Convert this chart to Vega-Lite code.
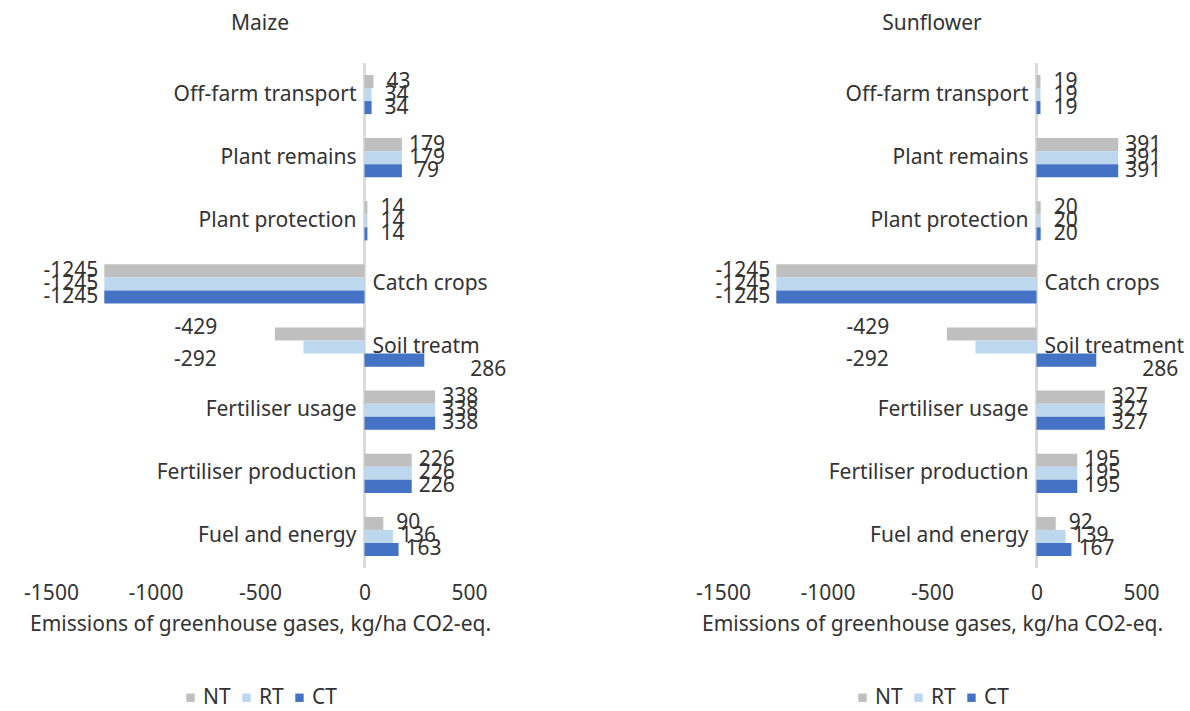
{
  "$schema": "https://vega.github.io/schema/vega-lite/v6.json",
  "background": "white",
  "padding": {"left": 23, "top": 13, "right": 5, "bottom": 2},
  "spacing": 188,
  "config": {
    "view": {"stroke": null},
    "font": "Noto Sans",
    "text": {"font": "Noto Sans", "fontSize": 21, "color": "#333333"},
    "title": {"font": "Noto Sans", "fontSize": 21, "fontWeight": "normal", "color": "#333333"},
    "axis": {"labelFont": "Noto Sans", "titleFont": "Noto Sans"},
    "legend": {"labelFont": "Noto Sans"}
  },
  "datasets": {
    "maize": [
      {"cat": "Off-farm transport", "name": "Off-farm transport", "series": "NT", "value": 43, "label": "43"},
      {"cat": "Off-farm transport", "name": "Off-farm transport", "series": "RT", "value": 34, "label": "34"},
      {"cat": "Off-farm transport", "name": "Off-farm transport", "series": "CT", "value": 34, "label": "34"},
      {"cat": "Plant remains", "name": "Plant remains", "series": "NT", "value": 179, "label": "179"},
      {"cat": "Plant remains", "name": "Plant remains", "series": "RT", "value": 179, "label": "179"},
      {"cat": "Plant remains", "name": "Plant remains", "series": "CT", "value": 179, "label": "79"},
      {"cat": "Plant protection", "name": "Plant protection", "series": "NT", "value": 14, "label": "14"},
      {"cat": "Plant protection", "name": "Plant protection", "series": "RT", "value": 14, "label": "14"},
      {"cat": "Plant protection", "name": "Plant protection", "series": "CT", "value": 14, "label": "14"},
      {"cat": "Catch crops", "name": "Catch crops", "series": "NT", "value": -1245, "label": "-1245"},
      {"cat": "Catch crops", "name": "Catch crops", "series": "RT", "value": -1245, "label": "-1245"},
      {"cat": "Catch crops", "name": "Catch crops", "series": "CT", "value": -1245, "label": "-1245"},
      {"cat": "Soil treatment", "name": "Soil treatm", "series": "NT", "value": -429, "label": "-429"},
      {"cat": "Soil treatment", "name": "Soil treatm", "series": "RT", "value": -292, "label": "-292"},
      {"cat": "Soil treatment", "name": "Soil treatm", "series": "CT", "value": 286, "label": "286"},
      {"cat": "Fertiliser usage", "name": "Fertiliser usage", "series": "NT", "value": 338, "label": "338"},
      {"cat": "Fertiliser usage", "name": "Fertiliser usage", "series": "RT", "value": 338, "label": "338"},
      {"cat": "Fertiliser usage", "name": "Fertiliser usage", "series": "CT", "value": 338, "label": "338"},
      {"cat": "Fertiliser production", "name": "Fertiliser production", "series": "NT", "value": 226, "label": "226"},
      {"cat": "Fertiliser production", "name": "Fertiliser production", "series": "RT", "value": 226, "label": "226"},
      {"cat": "Fertiliser production", "name": "Fertiliser production", "series": "CT", "value": 226, "label": "226"},
      {"cat": "Fuel and energy", "name": "Fuel and energy", "series": "NT", "value": 90, "label": "90"},
      {"cat": "Fuel and energy", "name": "Fuel and energy", "series": "RT", "value": 136, "label": "136"},
      {"cat": "Fuel and energy", "name": "Fuel and energy", "series": "CT", "value": 163, "label": "163"}
    ],
    "sunflower": [
      {"cat": "Off-farm transport", "name": "Off-farm transport", "series": "NT", "value": 19, "label": "19"},
      {"cat": "Off-farm transport", "name": "Off-farm transport", "series": "RT", "value": 19, "label": "19"},
      {"cat": "Off-farm transport", "name": "Off-farm transport", "series": "CT", "value": 19, "label": "19"},
      {"cat": "Plant remains", "name": "Plant remains", "series": "NT", "value": 391, "label": "391"},
      {"cat": "Plant remains", "name": "Plant remains", "series": "RT", "value": 391, "label": "391"},
      {"cat": "Plant remains", "name": "Plant remains", "series": "CT", "value": 391, "label": "391"},
      {"cat": "Plant protection", "name": "Plant protection", "series": "NT", "value": 20, "label": "20"},
      {"cat": "Plant protection", "name": "Plant protection", "series": "RT", "value": 20, "label": "20"},
      {"cat": "Plant protection", "name": "Plant protection", "series": "CT", "value": 20, "label": "20"},
      {"cat": "Catch crops", "name": "Catch crops", "series": "NT", "value": -1245, "label": "-1245"},
      {"cat": "Catch crops", "name": "Catch crops", "series": "RT", "value": -1245, "label": "-1245"},
      {"cat": "Catch crops", "name": "Catch crops", "series": "CT", "value": -1245, "label": "-1245"},
      {"cat": "Soil treatment", "name": "Soil treatment", "series": "NT", "value": -429, "label": "-429"},
      {"cat": "Soil treatment", "name": "Soil treatment", "series": "RT", "value": -292, "label": "-292"},
      {"cat": "Soil treatment", "name": "Soil treatment", "series": "CT", "value": 286, "label": "286"},
      {"cat": "Fertiliser usage", "name": "Fertiliser usage", "series": "NT", "value": 327, "label": "327"},
      {"cat": "Fertiliser usage", "name": "Fertiliser usage", "series": "RT", "value": 327, "label": "327"},
      {"cat": "Fertiliser usage", "name": "Fertiliser usage", "series": "CT", "value": 327, "label": "327"},
      {"cat": "Fertiliser production", "name": "Fertiliser production", "series": "NT", "value": 195, "label": "195"},
      {"cat": "Fertiliser production", "name": "Fertiliser production", "series": "RT", "value": 195, "label": "195"},
      {"cat": "Fertiliser production", "name": "Fertiliser production", "series": "CT", "value": 195, "label": "195"},
      {"cat": "Fuel and energy", "name": "Fuel and energy", "series": "NT", "value": 92, "label": "92"},
      {"cat": "Fuel and energy", "name": "Fuel and energy", "series": "RT", "value": 139, "label": "139"},
      {"cat": "Fuel and energy", "name": "Fuel and energy", "series": "CT", "value": 167, "label": "167"}
    ]
  },
  "resolve": {"scale": {"color": "independent"}, "legend": {"color": "independent"}},
  "hconcat": [
    {
      "width": 418, "height": 505,
      "title": {"text": "Maize", "offset": 28},
      "data": {"name": "maize"},
      "layer": [
        {"mark": {"type": "rule", "color": "#d9d9d9", "strokeWidth": 1.5},
         "encoding": {"x": {"datum": 0, "type": "quantitative", "scale": {"domain": [-1500, 500], "nice": false},
           "axis": {"values": [-1500, -1000, -500, 0, 500], "labelExpr": "'' + datum.value", "labelFlush": false, "title": "Emissions of greenhouse gases, kg/ha CO2-eq.", "ticks": false, "domain": false, "grid": false, "labelFontSize": 21, "titleFontSize": 21, "titleFontWeight": "normal", "labelColor": "#333333", "titleColor": "#333333", "labelPadding": 14, "titlePadding": 10}}}},
        {"mark": {"type": "bar"},
         "encoding": {
           "x": {"field": "value", "type": "quantitative"},
           "y": {"field": "cat", "type": "nominal", "sort": null, "scale": {"paddingInner": 0.38, "paddingOuter": 0.19}, "axis": null},
           "yOffset": {"field": "series", "type": "nominal", "sort": ["NT", "RT", "CT"], "scale": {"domain": ["NT", "RT", "CT"], "paddingInner": 0, "paddingOuter": 0}},
           "color": {"field": "series", "type": "nominal", "scale": {"domain": ["NT", "RT", "CT"], "range": ["#bfbfbf", "#bdd7ee", "#4472c4"]},
             "legend": {"orient": "none", "legendX": 129, "legendY": 624, "direction": "horizontal", "title": null, "symbolType": "square", "symbolSize": 70, "labelFontSize": 21, "labelColor": "#333333", "columnPadding": 5, "labelOffset": 2, "symbolStrokeWidth": 0}}
         }},
        {"transform": [{"filter": "datum.series == 'NT' && datum.cat != 'Catch crops' && datum.cat != 'Soil treatment'"}],
         "mark": {"type": "text", "align": "right", "dx": -8},
         "encoding": {"x": {"datum": 0, "type": "quantitative"}, "y": {"field": "cat", "type": "nominal", "sort": null}, "text": {"field": "name"}}},
        {"transform": [{"filter": "datum.series == 'NT' && (datum.cat == 'Catch crops' || datum.cat == 'Soil treatment')"}],
         "mark": {"type": "text", "align": "left", "dx": 8},
         "encoding": {"x": {"datum": 0, "type": "quantitative"}, "y": {"field": "cat", "type": "nominal", "sort": null}, "text": {"field": "name"}}},
        {"transform": [{"filter": "datum.value > 0 && datum.cat != 'Soil treatment'"}],
         "mark": {"type": "text", "align": "center", "dx": 25},
         "encoding": {"x": {"field": "value", "type": "quantitative"}, "y": {"field": "cat", "type": "nominal", "sort": null}, "yOffset": {"field": "series", "type": "nominal", "sort": ["NT", "RT", "CT"]}, "text": {"field": "label"}}},
        {"transform": [{"filter": "datum.cat == 'Catch crops'"}],
         "mark": {"type": "text", "align": "right", "dx": -6},
         "encoding": {"x": {"field": "value", "type": "quantitative"}, "y": {"field": "cat", "type": "nominal", "sort": null}, "yOffset": {"field": "series", "type": "nominal", "sort": ["NT", "RT", "CT"]}, "text": {"field": "label"}}},
        {"transform": [{"filter": "datum.cat == 'Soil treatment'"}],
         "mark": {"type": "text", "align": "center", "dx": {"expr": "datum.series == 'NT' ? -79 : datum.series == 'RT' ? -108 : 64"}, "dy": {"expr": "datum.series == 'NT' ? -6 : datum.series == 'RT' ? 13 : 10"}},
         "encoding": {"x": {"field": "value", "type": "quantitative"}, "y": {"field": "cat", "type": "nominal", "sort": null}, "yOffset": {"field": "series", "type": "nominal", "sort": ["NT", "RT", "CT"]}, "text": {"field": "label"}}}
      ]
    },
    {
      "width": 418, "height": 505,
      "title": {"text": "Sunflower", "offset": 28},
      "data": {"name": "sunflower"},
      "layer": [
        {"mark": {"type": "rule", "color": "#d9d9d9", "strokeWidth": 1.5},
         "encoding": {"x": {"datum": 0, "type": "quantitative", "scale": {"domain": [-1500, 500], "nice": false},
           "axis": {"values": [-1500, -1000, -500, 0, 500], "labelExpr": "'' + datum.value", "labelFlush": false, "title": "Emissions of greenhouse gases, kg/ha CO2-eq.", "ticks": false, "domain": false, "grid": false, "labelFontSize": 21, "titleFontSize": 21, "titleFontWeight": "normal", "labelColor": "#333333", "titleColor": "#333333", "labelPadding": 14, "titlePadding": 10}}}},
        {"mark": {"type": "bar"},
         "encoding": {
           "x": {"field": "value", "type": "quantitative"},
           "y": {"field": "cat", "type": "nominal", "sort": null, "scale": {"paddingInner": 0.38, "paddingOuter": 0.19}, "axis": null},
           "yOffset": {"field": "series", "type": "nominal", "sort": ["NT", "RT", "CT"], "scale": {"domain": ["NT", "RT", "CT"], "paddingInner": 0, "paddingOuter": 0}},
           "color": {"field": "series", "type": "nominal", "scale": {"domain": ["NT", "RT", "CT"], "range": ["#bfbfbf", "#bdd7ee", "#4472c4"]},
             "legend": {"orient": "none", "legendX": 129, "legendY": 624, "direction": "horizontal", "title": null, "symbolType": "square", "symbolSize": 70, "labelFontSize": 21, "labelColor": "#333333", "columnPadding": 5, "labelOffset": 2, "symbolStrokeWidth": 0}}
         }},
        {"transform": [{"filter": "datum.series == 'NT' && datum.cat != 'Catch crops' && datum.cat != 'Soil treatment'"}],
         "mark": {"type": "text", "align": "right", "dx": -8},
         "encoding": {"x": {"datum": 0, "type": "quantitative"}, "y": {"field": "cat", "type": "nominal", "sort": null}, "text": {"field": "name"}}},
        {"transform": [{"filter": "datum.series == 'NT' && (datum.cat == 'Catch crops' || datum.cat == 'Soil treatment')"}],
         "mark": {"type": "text", "align": "left", "dx": 8},
         "encoding": {"x": {"datum": 0, "type": "quantitative"}, "y": {"field": "cat", "type": "nominal", "sort": null}, "text": {"field": "name"}}},
        {"transform": [{"filter": "datum.value > 0 && datum.cat != 'Soil treatment'"}],
         "mark": {"type": "text", "align": "center", "dx": 25},
         "encoding": {"x": {"field": "value", "type": "quantitative"}, "y": {"field": "cat", "type": "nominal", "sort": null}, "yOffset": {"field": "series", "type": "nominal", "sort": ["NT", "RT", "CT"]}, "text": {"field": "label"}}},
        {"transform": [{"filter": "datum.cat == 'Catch crops'"}],
         "mark": {"type": "text", "align": "right", "dx": -6},
         "encoding": {"x": {"field": "value", "type": "quantitative"}, "y": {"field": "cat", "type": "nominal", "sort": null}, "yOffset": {"field": "series", "type": "nominal", "sort": ["NT", "RT", "CT"]}, "text": {"field": "label"}}},
        {"transform": [{"filter": "datum.cat == 'Soil treatment'"}],
         "mark": {"type": "text", "align": "center", "dx": {"expr": "datum.series == 'NT' ? -79 : datum.series == 'RT' ? -108 : 64"}, "dy": {"expr": "datum.series == 'NT' ? -6 : datum.series == 'RT' ? 13 : 10"}},
         "encoding": {"x": {"field": "value", "type": "quantitative"}, "y": {"field": "cat", "type": "nominal", "sort": null}, "yOffset": {"field": "series", "type": "nominal", "sort": ["NT", "RT", "CT"]}, "text": {"field": "label"}}}
      ]
    }
  ]
}
